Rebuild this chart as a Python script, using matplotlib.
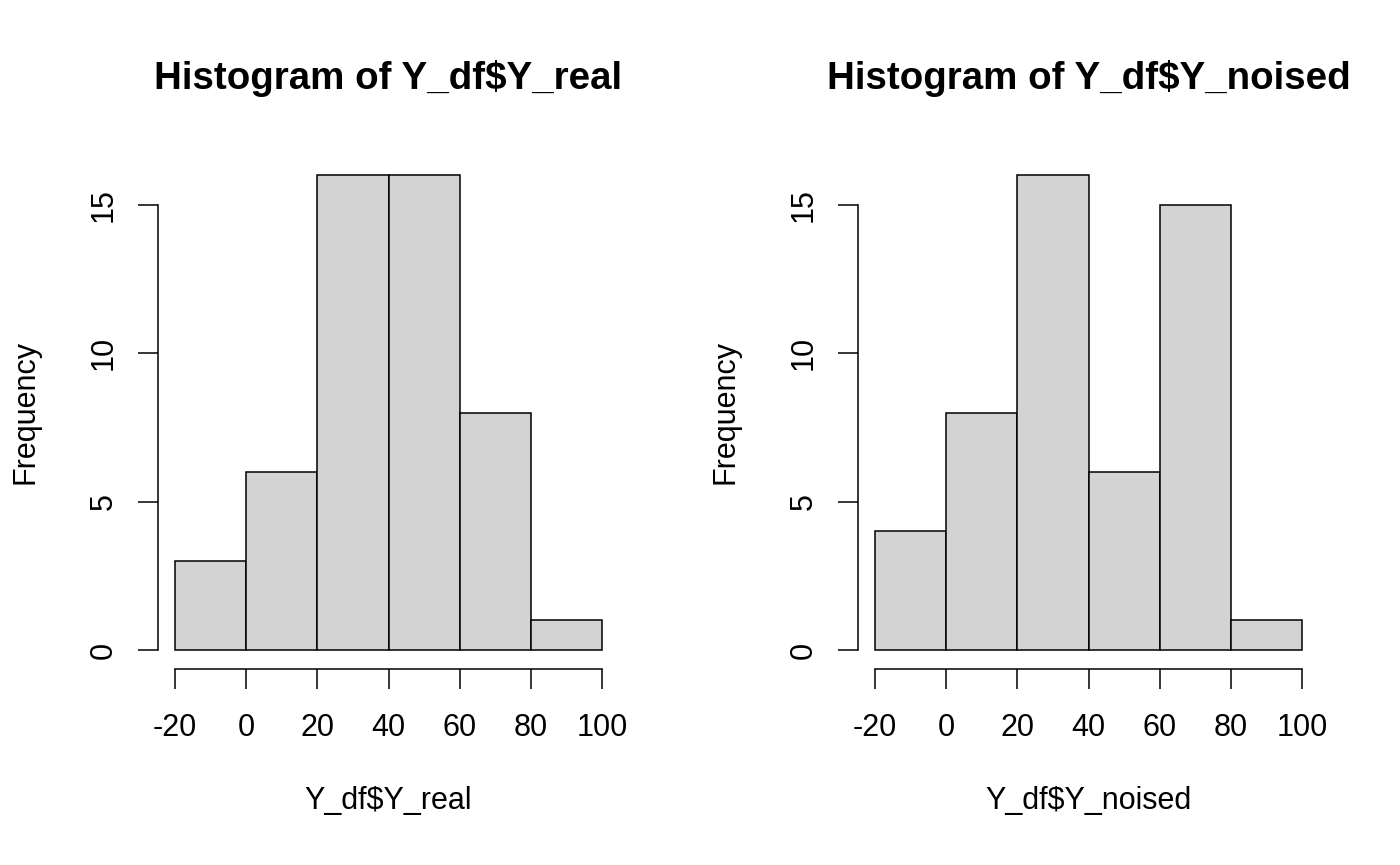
import numpy as np
import matplotlib.pyplot as plt

plt.rcParams['font.family'] = ['Liberation Sans', 'DejaVu Sans']
plt.rcParams['axes.unicode_minus'] = False

bin_edges = [-20, 0, 20, 40, 60, 80, 100]
counts_real = [3, 6, 16, 16, 8, 1]
counts_noised = [4, 8, 16, 6, 15, 1]
titles = ['Histogram of Y_df$Y_real', 'Histogram of Y_df$Y_noised']
xlabels = ['Y_df$Y_real', 'Y_df$Y_noised']
xticks = [-20, 0, 20, 40, 60, 80, 100]
yticks = [0, 5, 10, 15]

fig = plt.figure(figsize=(14, 8.65), dpi=100)
W, H = 1400, 865

def draw(left_px, counts, title, xlabel):
	# plot region in pixels, R style 4% padding
	ax = fig.add_axes([left_px / W, (H - 669) / H, 461 / W, 513 / H])
	edges = np.array(bin_edges)
	ax.bar(edges[:-1], counts, width=np.diff(edges), align='edge',
		color='#d3d3d3', edgecolor='black', linewidth=1.1)
	ax.set_xlim(-24.8, 104.8)
	ax.set_ylim(-0.64, 16.64)
	for s in ['top', 'right']:
		ax.spines[s].set_visible(False)
	ax.spines['left'].set_bounds(0, 15)
	ax.spines['bottom'].set_bounds(-20, 100)
	ax.spines['left'].set_linewidth(1.1)
	ax.spines['bottom'].set_linewidth(1.1)
	ax.set_xticks(xticks)
	ax.set_yticks(yticks)
	ax.set_yticklabels([str(v) for v in yticks], rotation=90, va='center')
	ax.tick_params(axis='both', direction='out', length=14.4, width=1.1,
		labelsize=22)
	ax.tick_params(axis='x', pad=17)
	ax.tick_params(axis='y', pad=14)
	ax.text(0.5, 1.152, title, transform=ax.transAxes, ha='center', va='center',
		fontsize=27.7, fontweight='bold')
	ax.text(0.5, -0.258, xlabel, transform=ax.transAxes, ha='center', va='center',
		fontsize=22)
	ax.text(-0.2885, 0.5, 'Frequency', transform=ax.transAxes, ha='center', va='center',
		fontsize=22, rotation=90)
	return ax

draw(158, counts_real, titles[0], xlabels[0])
draw(858, counts_noised, titles[1], xlabels[1])

fig.savefig('out.png', dpi=100)
